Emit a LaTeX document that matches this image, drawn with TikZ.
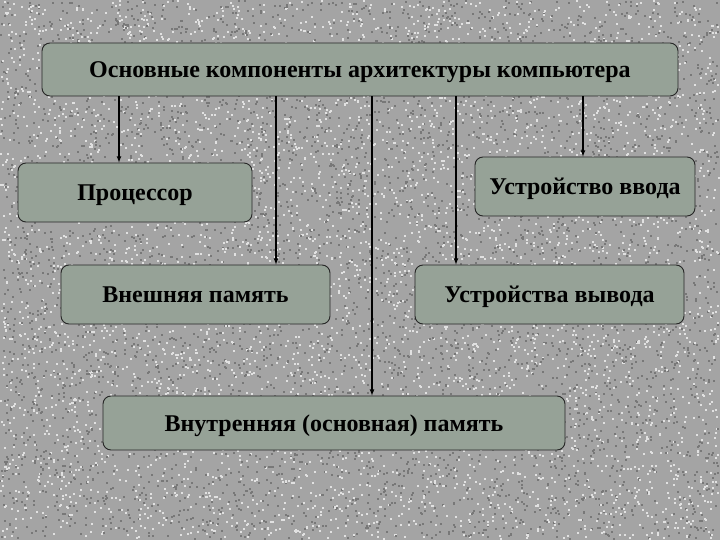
\documentclass[tikz,border=0pt]{standalone}
\usepackage{fontspec}
\setmainfont{Liberation Serif}
\usepackage{tikz}
\usetikzlibrary{calc}

\definecolor{granite}{RGB}{164,164,164}
\definecolor{speckdark}{RGB}{120,120,120}
\definecolor{specklight}{RGB}{225,225,225}
\definecolor{boxgreen}{RGB}{150,162,151}

\tikzset{
    part/.style={draw=black!85,line width=0.9pt,fill=boxgreen,rounded corners=8pt,
        inner sep=0pt,text height=16pt,text depth=0pt,
        font=\fontsize{24}{28}\selectfont\bfseries},
}

\begin{document}
\begin{tikzpicture}[>=latex,x=1pt,y=-1pt]
    \fill[granite] (0,0) rectangle (720,540);
    \useasboundingbox (0,0) rectangle (720,540);
    % speckled background
    \pgfmathsetseed{11}
    \foreach \i in {1,...,5000}
    {
        \pgfmathsetmacro\px{rnd*718}
        \pgfmathsetmacro\py{rnd*538}
        \pgfmathsetmacro\qx{rnd*718}
        \pgfmathsetmacro\qy{rnd*538}
        \fill[speckdark] (\px,\py) rectangle ++(2,2);
        \fill[specklight] (\qx,\qy) rectangle ++(2,2);
    }
    \node[part,minimum width=636pt,minimum height=53pt] (arch) at (360,69.5)
        {Основные компоненты архитектуры компьютера};
    \node[part,minimum width=234pt,minimum height=59pt] (proc) at (135,192.5){Процессор};
    \node[part,minimum width=220pt,minimum height=59pt] (inp) at (585,186.5){Устройство ввода};
    \node[part,minimum width=269pt,minimum height=59pt] (ext) at (195.5,294.5){Внешняя память};
    \node[part,minimum width=269pt,minimum height=59pt] (outp) at (549.5,294.5){Устройства вывода};
    \node[part,minimum width=462pt,minimum height=54pt] (intm) at (334,423)
        {Внутренняя (основная) память};
    \foreach \x/\t in {119/proc,276/ext,372/intm,456/outp,583/inp}
    {
        \coordinate (c) at (\x,0);
        \draw[->,line width=1.1pt](arch.south -| c)--(\t.north -| c);
    }
\end{tikzpicture}
\end{document}
